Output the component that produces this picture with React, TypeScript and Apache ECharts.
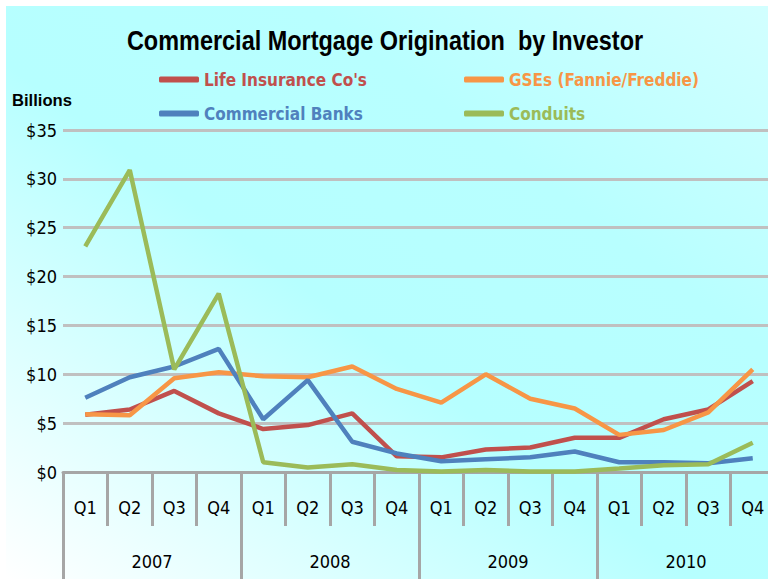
import React, { useEffect, useRef } from "react";
import * as echarts from "echarts";

const quarters = ["Q1", "Q2", "Q3", "Q4", "Q1", "Q2", "Q3", "Q4", "Q1", "Q2", "Q3", "Q4", "Q1", "Q2", "Q3", "Q4"];
const years = ["2007", "2008", "2009", "2010"];
const yTicks = [0, 5, 10, 15, 20, 25, 30, 35];

const lifeInsurance = [5.85, 6.4, 8.3, 6.0, 4.4, 4.8, 6.0, 1.6, 1.5, 2.3, 2.5, 3.5, 3.5, 5.4, 6.4, 9.3];
const gses = [5.9, 5.8, 9.6, 10.2, 9.8, 9.7, 10.8, 8.5, 7.1, 10.0, 7.5, 6.5, 3.8, 4.3, 6.1, 10.5];
const commercialBanks = [7.6, 9.7, 10.8, 12.6, 5.4, 9.4, 3.1, 1.9, 1.1, 1.3, 1.5, 2.1, 1.0, 1.0, 0.9, 1.4];
const conduits = [23.1, 30.9, 10.5, 18.25, 1.0, 0.45, 0.8, 0.2, 0.05, 0.2, 0.05, 0.05, 0.35, 0.7, 0.8, 3.0];

const seriesNames = ["Life Insurance Co's", "GSEs (Fannie/Freddie)", "Commercial Banks", "Conduits"];
const seriesColors = ["#c0504d", "#f79646", "#4f81bd", "#9bbb59"];

const TITLE = "Commercial Mortgage Origination  by Investor";
const FONT = "'DejaVu Sans Condensed', 'Liberation Sans', sans-serif";
const TITLE_FONT = "bold 28px 'Liberation Sans', Arial, sans-serif";
const BILLIONS_FONT = "bold 17px 'Liberation Sans', Arial, sans-serif";

function measure(text: string, font: string): number {
  const c = document.createElement("canvas").getContext("2d");
  if (!c) return 600;
  c.font = font;
  return c.measureText(text).width;
}

export default function App() {
  const ref = useRef<HTMLDivElement>(null);
  useEffect(() => {
    if (!ref.current) return;
    const chart = echarts.init(ref.current, null, { renderer: "svg" });
    const dataSets = [lifeInsurance, gses, commercialBanks, conduits];
    const legendItem = (i: number) => ({
      name: seriesNames[i],
      textStyle: { color: seriesColors[i] },
    });
    const titleScale = 516 / measure(TITLE, TITLE_FONT);
    const billionsScale = 60 / measure("Billions", BILLIONS_FONT);
    const legendCommon = {
      orient: "vertical",
      top: 66,
      itemGap: 17,
      itemWidth: 40,
      itemHeight: 6,
      icon: "roundRect",
      textStyle: { fontFamily: FONT, fontSize: 17, fontWeight: "bold" },
    };
    chart.setOption({
      animation: false,
      graphic: [
        {
          type: "rect",
          z: -10,
          silent: true,
          shape: { x: 6, y: 6, width: 762, height: 573 },
          style: {
            fill: new echarts.graphic.LinearGradient(0, 1, 1, 0, [
              { offset: 0, color: "#ffffff" },
              { offset: 0.45, color: "#b6ffff" },
              { offset: 0.7, color: "#b8ffff" },
              { offset: 1, color: "#d2ffff" },
            ]),
          },
        },
        {
          type: "text",
          x: 385,
          y: 40,
          scaleX: titleScale,
          silent: true,
          style: {
            text: TITLE,
            font: TITLE_FONT,
            fill: "#000",
            textAlign: "center",
            textVerticalAlign: "middle",
          },
        },
        {
          type: "text",
          x: 12,
          y: 100,
          scaleX: billionsScale,
          silent: true,
          style: {
            text: "Billions",
            font: BILLIONS_FONT,
            fill: "#000",
            textAlign: "left",
            textVerticalAlign: "middle",
          },
        },
      ],
      legend: [
        { ...legendCommon, left: 154, data: [legendItem(0), legendItem(2)] },
        { ...legendCommon, left: 459, data: [legendItem(1), legendItem(3)] },
      ],
      grid: { left: 63, top: 130, width: 712, height: 342, outerBoundsMode: "none", containLabel: false },
      xAxis: [
        {
          type: "category",
          data: quarters,
          position: "bottom",
          boundaryGap: true,
          axisLine: { show: true, lineStyle: { color: "#a6a6a6", width: 3 } },
          axisTick: { show: true, interval: 0, length: 54, lineStyle: { color: "#a6a6a6", width: 3 } },
          axisLabel: { interval: 0, margin: 26, fontSize: 18, color: "#000", fontFamily: FONT },
          splitLine: { show: false },
        },
        {
          type: "category",
          data: years,
          position: "bottom",
          boundaryGap: true,
          axisLine: { show: false },
          axisTick: { show: true, interval: 0, length: 108, lineStyle: { color: "#a6a6a6", width: 3 } },
          axisLabel: { interval: 0, margin: 80, fontSize: 18, color: "#000", fontFamily: FONT },
          splitLine: { show: false },
        },
      ],
      yAxis: {
        type: "value",
        min: 0,
        max: 35,
        interval: 5,
        axisLine: { show: false },
        axisTick: { show: false },
        axisLabel: {
          margin: 6,
          fontSize: 18,
          color: "#000",
          fontFamily: FONT,
          formatter: (v: number) => (yTicks.includes(v) ? "$" + v : ""),
        },
        splitLine: { show: true, lineStyle: { color: "#c0c0c0", width: 3 } },
      },
      series: dataSets.map((d, i) => ({
        name: seriesNames[i],
        type: "line",
        xAxisIndex: 0,
        data: d,
        symbol: "none",
        smooth: false,
        color: seriesColors[i],
        lineStyle: { width: 4.5, color: seriesColors[i] },
      })),
    });
    return () => chart.dispose();
  }, []);
  return (
    <div
      ref={ref}
      style={{ position: "absolute", left: 0, top: 0, width: 768, height: 579 }}
    />
  );
}
